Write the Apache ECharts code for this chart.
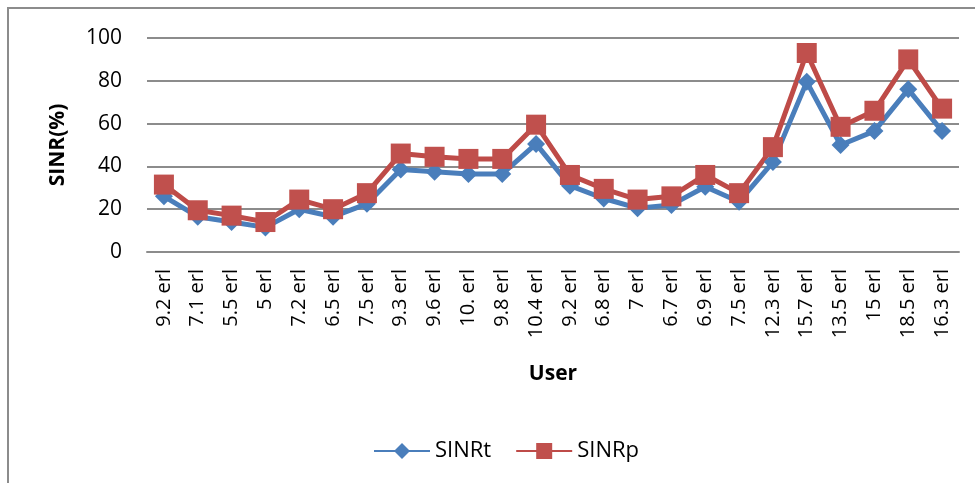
<!DOCTYPE html>
<html>
<head>
<meta charset="utf-8">
<script src="https://cdn.jsdelivr.net/npm/echarts@6/dist/echarts.min.js"></script>
<style>
  html, body { margin: 0; padding: 0; background: #fff; }
  #chart { width: 975px; height: 483px; }
</style>
</head>
<body>
<div id="chart"></div>
<script>
// categories (traffic per user)
const users = ["9.2 erl", "7.1 erl", "5.5 erl", "5 erl", "7.2 erl", "6.5 erl", "7.5 erl", "9.3 erl",
  "9.6 erl", "10. erl", "9.8 erl", "10.4 erl", "9.2 erl", "6.8 erl", "7 erl", "6.7 erl",
  "6.9 erl", "7.5 erl", "12.3 erl", "15.7 erl", "13.5 erl", "15 erl", "18.5 erl", "16.3 erl"];
// series values
const sinrT = [26, 16.5, 14, 11.5, 20, 16.5, 22.5, 38.5, 37.5, 36.5, 36.5, 50.5, 31, 25, 20.5, 22, 30.5, 23.5, 42, 79.5, 50, 56.5, 76, 56.5];
const sinrP = [31.5, 19.5, 17, 14, 24.5, 20, 27.5, 46, 44.5, 43.5, 43.5, 59.5, 36, 29.5, 24.5, 26, 36, 27.5, 49, 93, 58.5, 66, 90, 67];
const yTicks = [0, 20, 40, 60, 80, 100];

const font = "'Open Sans', 'Liberation Sans', sans-serif";
const chart = echarts.init(document.getElementById("chart"));

const option = {
  animation: false,
  textStyle: { fontFamily: font },
  grid: { left: 147, right: 16, top: 38, bottom: 231 },
  // outer chart border (only left and top visible in the crop)
  graphic: [{
    type: "rect",
    shape: { x: 8, y: 8, width: 990, height: 500 },
    style: { fill: "none", stroke: "#8c8c8c", lineWidth: 2 },
    silent: true
  }],
  legend: {
    bottom: 16,
    left: 368,
    itemWidth: 56,
    itemHeight: 20,
    itemGap: 24,
    textStyle: { fontSize: 22, color: "#000", fontFamily: font },
    data: ["SINRt", "SINRp"]
  },
  xAxis: {
    type: "category",
    data: users,
    boundaryGap: true,
    name: "User",
    nameLocation: "middle",
    nameGap: 112,
    nameTextStyle: { fontSize: 21, fontWeight: "bold", color: "#000", fontFamily: font },
    axisLine: { lineStyle: { color: "#8c8c8c", width: 2 } },
    axisTick: { show: false },
    axisLabel: { rotate: 90, interval: 0, fontSize: 20, color: "#000", margin: 17, fontFamily: font }
  },
  yAxis: {
    type: "value",
    min: yTicks[0],
    max: yTicks[yTicks.length - 1],
    interval: 20,
    name: "SINR(%)",
    nameLocation: "middle",
    nameGap: 78,
    nameTextStyle: { fontSize: 21, fontWeight: "bold", color: "#000", fontFamily: font },
    axisLine: { show: false },
    axisTick: { show: false },
    axisLabel: { fontSize: 21, color: "#000", margin: 25, fontFamily: font },
    splitLine: { lineStyle: { color: "#8c8c8c", width: 2 } }
  },
  series: [
    {
      name: "SINRt",
      type: "line",
      data: sinrT,
      symbol: "diamond",
      symbolSize: 18,
      lineStyle: { color: "#4a7ebb", width: 5 },
      itemStyle: { color: "#4a7ebb" }
    },
    {
      name: "SINRp",
      type: "line",
      data: sinrP,
      symbol: "rect",
      symbolSize: 20,
      lineStyle: { color: "#be4b48", width: 5 },
      itemStyle: { color: "#c0504d" }
    }
  ]
};

chart.setOption(option);
</script>
</body>
</html>
